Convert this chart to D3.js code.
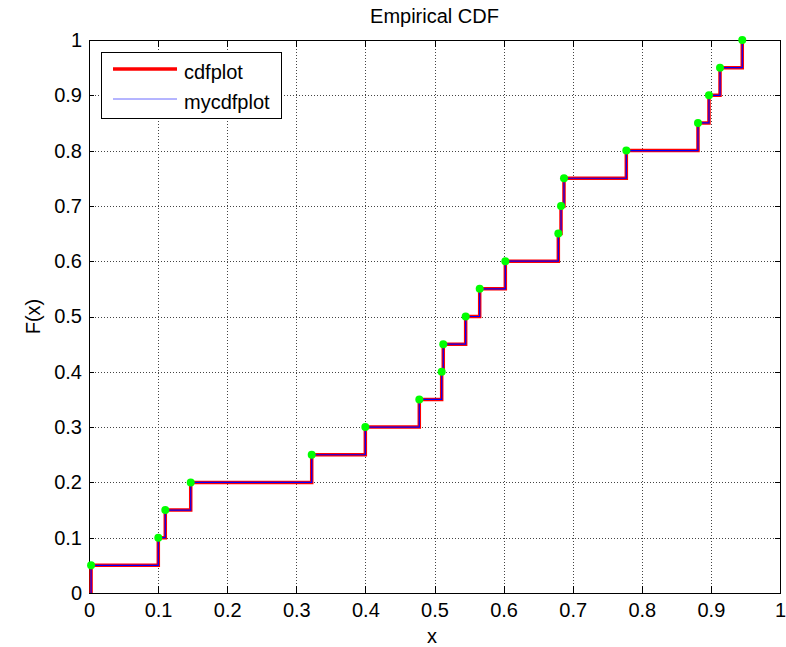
<!DOCTYPE html>
<html lang="en">
<head>
  <meta charset="utf-8">
  <title>Empirical CDF</title>
  <script src="https://d3js.org/d3.v7.min.js"></script>
  <style>
    body { margin: 0; background: #fff; }
    svg text { font-family: "Liberation Sans", Arial, sans-serif; font-size: 20px; fill: #000; }
  </style>
</head>
<body>
<script>
// sorted samples; F steps by 1/20 at each one
var samples = [0.003, 0.1003, 0.1104, 0.1472, 0.3223, 0.3999, 0.4780, 0.5104, 0.5127, 0.5451,
               0.5654, 0.6025, 0.6792, 0.6831, 0.6874, 0.7776, 0.8813, 0.8972, 0.9132, 0.9454];
var cdfValues = [0.05, 0.10, 0.15, 0.20, 0.25, 0.30, 0.35, 0.40, 0.45, 0.50,
                 0.55, 0.60, 0.65, 0.70, 0.75, 0.80, 0.85, 0.90, 0.95, 1.00];
var xTicks = [0, 0.1, 0.2, 0.3, 0.4, 0.5, 0.6, 0.7, 0.8, 0.9, 1];
var yTicks = [0, 0.1, 0.2, 0.3, 0.4, 0.5, 0.6, 0.7, 0.8, 0.9, 1];
var legendLabels = ["cdfplot", "mycdfplot"];

var w = 786, h = 647;
var plotL = 89, plotR = 780, plotT = 40, plotB = 593;

var x = d3.scaleLinear().domain([0, 1]).range([plotL, plotR]);
var y = d3.scaleLinear().domain([0, 1]).range([plotB, plotT]);
var fmt = function (d) { return d3.format("~g")(d); };

var svg = d3.select("body").append("svg")
  .attr("width", w)
  .attr("height", h);

svg.append("rect").attr("width", w).attr("height", h).attr("fill", "#fff");

// dotted grid
var grid = svg.append("g")
  .attr("stroke", "#444")
  .attr("stroke-width", 1)
  .attr("stroke-dasharray", "1,2")
  .attr("shape-rendering", "crispEdges");
grid.selectAll(".gx").data(xTicks.slice(1, -1)).enter().append("line")
  .attr("x1", function (d) { return Math.round(x(d)) + 0.5; })
  .attr("x2", function (d) { return Math.round(x(d)) + 0.5; })
  .attr("y1", plotT).attr("y2", plotB);
grid.selectAll(".gy").data(yTicks.slice(1, -1)).enter().append("line")
  .attr("y1", function (d) { return Math.round(y(d)) + 0.5; })
  .attr("y2", function (d) { return Math.round(y(d)) + 0.5; })
  .attr("x1", plotL).attr("x2", plotR);

// axes, ticks pointing inward on all four sides
function styleAxis(g) {
  g.selectAll("path, line").attr("stroke", "#000").attr("shape-rendering", "crispEdges");
  g.selectAll("text").attr("font-size", null).attr("font-family", null);
}

svg.append("g")
  .attr("transform", "translate(0," + plotB + ")")
  .call(d3.axisBottom(x).tickValues(xTicks).tickFormat(fmt).tickSize(-7).tickSizeOuter(0).tickPadding(10))
  .call(styleAxis);
svg.append("g")
  .attr("transform", "translate(0," + plotT + ")")
  .call(d3.axisTop(x).tickValues(xTicks).tickFormat("").tickSize(-7).tickSizeOuter(0))
  .call(styleAxis);
svg.append("g")
  .attr("transform", "translate(" + plotL + ",0)")
  .call(d3.axisLeft(y).tickValues(yTicks).tickFormat(fmt).tickSize(-5).tickSizeOuter(0).tickPadding(7))
  .call(styleAxis);
svg.append("g")
  .attr("transform", "translate(" + plotR + ",0)")
  .call(d3.axisRight(y).tickValues(yTicks).tickFormat("").tickSize(-5).tickSizeOuter(0))
  .call(styleAxis);

// stairs: start at (first sample, 0) then jump at every sample
var pts = [[samples[0], 0]].concat(samples.map(function (s, i) { return [s, cdfValues[i]]; }));
var stairs = d3.line()
  .x(function (d) { return x(d[0]); })
  .y(function (d) { return y(d[1]); })
  .curve(d3.curveStepAfter);

svg.append("path").datum(pts)
  .attr("d", stairs)
  .attr("fill", "none")
  .attr("stroke", "#ff0000")
  .attr("stroke-width", 3.5);
svg.append("path").datum(pts)
  .attr("d", stairs)
  .attr("fill", "none")
  .attr("stroke", "#0000ff")
  .attr("stroke-width", 1.2);

svg.selectAll(".pt").data(samples).enter().append("circle")
  .attr("cx", function (d) { return x(d); })
  .attr("cy", function (d, i) { return y(cdfValues[i]); })
  .attr("r", 4)
  .attr("fill", "#00ff00");

// titles
svg.append("text")
  .attr("x", (plotL + plotR) / 2).attr("y", 23)
  .attr("text-anchor", "middle")
  .text("Empirical CDF");
svg.append("text")
  .attr("x", 432).attr("y", 643)
  .attr("text-anchor", "middle")
  .text("x");
svg.append("text")
  .attr("text-anchor", "middle")
  .attr("transform", "translate(40," + ((plotT + plotB) / 2) + ") rotate(-90)")
  .text("F(x)");

// legend
var lg = svg.append("g");
lg.append("rect")
  .attr("x", 101.5).attr("y", 52.5).attr("width", 180).attr("height", 66)
  .attr("fill", "#fff").attr("stroke", "#000").attr("stroke-width", 1);
var legendStyle = [{ color: "#ff0000", width: 3.5 }, { color: "#6a6aff", width: 1 }];
legendLabels.forEach(function (name, i) {
  var ly = 69 + i * 30;
  lg.append("line")
    .attr("x1", 113).attr("x2", 177).attr("y1", ly).attr("y2", ly)
    .attr("stroke", legendStyle[i].color).attr("stroke-width", legendStyle[i].width);
  lg.append("text")
    .attr("x", 184).attr("y", ly + 10)
    .text(name);
});
</script>
</body>
</html>
